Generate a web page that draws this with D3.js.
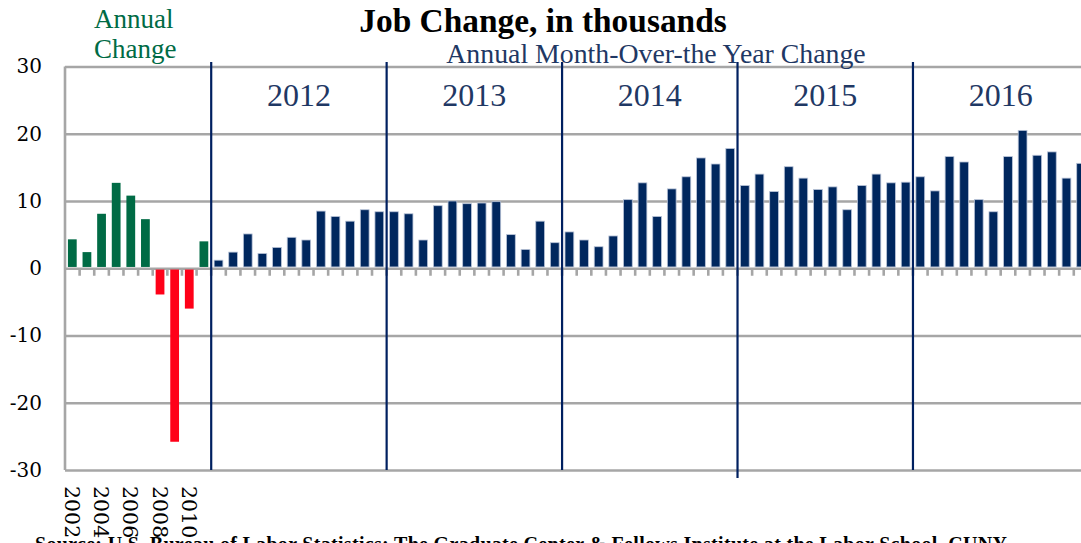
<!DOCTYPE html>
<html>
<head>
<meta charset="utf-8">
<script src="https://cdn.jsdelivr.net/npm/d3@7"></script>
<style>
  html, body { margin: 0; padding: 0; background: #fff; }
  svg { display: block; }
</style>
</head>
<body>
<svg id="chart" width="1081" height="543"></svg>
<script>
// ---------- DATA ----------
const annualYears = ["2002","2003","2004","2005","2006","2007","2008","2009","2010","2011"];
const annualChange = [4.3, 2.4, 8.1, 12.7, 10.8, 7.3, -3.9, -25.8, -6.0, 4.0];
const monthYears = ["2012","2013","2014","2015","2016"];
const monthNames = ["Jan","Feb","Mar","Apr","May","Jun","Jul","Aug","Sep","Oct","Nov","Dec"];
const monthlyChange = [
  // 2012
  1.2, 2.4, 5.1, 2.2, 3.1, 4.6, 4.2, 8.5, 7.7, 7.0, 8.7, 8.4,
  // 2013
  8.4, 8.1, 4.2, 9.3, 10.0, 9.6, 9.7, 9.9, 5.0, 2.8, 7.0, 3.8,
  // 2014
  5.4, 4.2, 3.2, 4.8, 10.2, 12.7, 7.7, 11.8, 13.6, 16.4, 15.5, 17.8,
  // 2015
  12.3, 14.0, 11.4, 15.1, 13.4, 11.7, 12.1, 8.7, 12.3, 14.0, 12.7, 12.8,
  // 2016
  13.6, 11.5, 16.6, 15.8, 10.2, 8.4, 16.6, 20.5, 16.8, 17.3, 13.4, 15.6
];
const yTicks = [30, 20, 10, 0, -10, -20, -30];
const xTickLabels = ["2002","2004","2006","2008","2010"];
const titleText = "Job Change, in thousands";
const subtitleText = "Annual Month-Over-the Year Change";
const annualLabelLines = ["Annual", "Change"];
const sourceText = "Source: U.S. Bureau of Labor Statistics; The Graduate Center & Fellows Institute at the Labor School, CUNY";

// ---------- BUILD ----------
const rows = [];
annualYears.forEach((yr, i) => rows.push({ key: yr, value: annualChange[i], kind: "annual", year: yr }));
monthYears.forEach((yr, yi) => monthNames.forEach((m, mi) => {
  rows.push({ key: yr + "-" + m, value: monthlyChange[yi * 12 + mi], kind: "month", year: yr });
}));

const svg = d3.select("#chart");
const plotLeft = 65, step = 14.62;
const plotTop = 66.5, plotBottom = 470;

const x = d3.scaleBand()
  .domain(rows.map(d => d.key))
  .range([plotLeft, plotLeft + rows.length * step])
  .paddingInner(0.4)
  .paddingOuter(0.2);
const y = d3.scaleLinear().domain([-30, 30]).range([plotBottom, plotTop]);
const xEnd = 1081;
const boundary = i => x.range()[0] + i * x.step();

const grey = "#a6a6a6", navy = "#002060", green = "#006b45", red = "#ff0018", barNavy = "#00275e";
const serif = "'Liberation Serif', 'Times New Roman', serif";
const serif2 = "'DejaVu Serif', serif";

// grid + y labels
const yAxis = d3.axisLeft(y).tickValues(yTicks).tickSize(-(xEnd - plotLeft)).tickFormat(d => String(d));
const gy = svg.append("g").attr("transform", `translate(${plotLeft},0)`).call(yAxis);
gy.select(".domain").remove();
gy.selectAll(".tick line").attr("stroke", grey).attr("stroke-width", 2.6);
gy.selectAll(".tick text")
  .attr("x", -23)
  .attr("font-family", serif2)
  .attr("font-size", 20)
  .attr("fill", "#000");

// left axis line
svg.append("line")
  .attr("x1", plotLeft).attr("x2", plotLeft)
  .attr("y1", y(30)).attr("y2", y(-30))
  .attr("stroke", grey).attr("stroke-width", 2.6);

// zero-line ticks at category boundaries
svg.append("g").selectAll("line")
  .data(d3.range(1, rows.length))
  .join("line")
  .attr("x1", i => boundary(i)).attr("x2", i => boundary(i))
  .attr("y1", y(0)).attr("y2", y(0) + 7.5)
  .attr("stroke", grey).attr("stroke-width", 2.6);

// bars
svg.append("g").selectAll("rect")
  .data(rows)
  .join("rect")
  .attr("x", d => x(d.key))
  .attr("width", x.bandwidth())
  .attr("y", d => d.value >= 0 ? y(d.value) : y(0) + 1.3)
  .attr("height", d => d.value >= 0 ? y(0) - 1.3 - y(d.value) : y(d.value) - y(0) - 1.3)
  .attr("fill", d => d.kind === "month" ? barNavy : (d.value < 0 ? red : green))
  .attr("stroke", d => d.kind === "month" ? "#b9c4d8" : "none")
  .attr("stroke-width", d => d.kind === "month" ? 0.8 : 0);

// year separators and labels
const firstIdx = monthYears.map(yr => rows.findIndex(r => r.year === yr));
svg.append("g").selectAll("line")
  .data(firstIdx)
  .join("line")
  .attr("x1", i => boundary(i)).attr("x2", i => boundary(i))
  .attr("y1", 62)
  .attr("y2", (i, k) => k === 3 ? plotBottom + 8 : plotBottom)
  .attr("stroke", navy).attr("stroke-width", 2.2);

svg.append("g").selectAll("text")
  .data(monthYears)
  .join("text")
  .attr("x", (yr, k) => (boundary(firstIdx[k]) + boundary(firstIdx[k] + 12)) / 2)
  .attr("y", 106)
  .attr("text-anchor", "middle")
  .attr("font-family", serif)
  .attr("font-size", 32)
  .attr("fill", "#1f3864")
  .text(d => d);

// x labels (rotated)
svg.append("g").selectAll("text")
  .data(xTickLabels)
  .join("text")
  .attr("transform", d => `translate(${x(d) + x.bandwidth() / 2},486) rotate(90)`)
  .attr("dy", "0.36em")
  .attr("font-family", serif2)
  .attr("font-size", 20.5)
  .attr("fill", "#000")
  .text(d => d);

// titles
svg.append("text")
  .attr("x", 543).attr("y", 32)
  .attr("text-anchor", "middle")
  .attr("font-family", serif)
  .attr("font-weight", "bold")
  .attr("font-size", 33.4)
  .attr("fill", "#000")
  .text(titleText);

svg.append("text")
  .attr("x", 656).attr("y", 63)
  .attr("text-anchor", "middle")
  .attr("font-family", serif)
  .attr("font-size", 27.8)
  .attr("fill", "#1f3864")
  .text(subtitleText);

svg.append("g").selectAll("text")
  .data(annualLabelLines)
  .join("text")
  .attr("x", 94)
  .attr("y", (d, i) => 28 + i * 30)
  .attr("font-family", serif)
  .attr("font-size", 27)
  .attr("fill", green)
  .text(d => d);

svg.append("text")
  .attr("x", 35).attr("y", 551)
  .attr("font-family", serif)
  .attr("font-weight", "bold")
  .attr("font-size", 20)
  .attr("textLength", 972)
  .attr("lengthAdjust", "spacing")
  .attr("fill", "#000")
  .text(sourceText);
</script>
</body>
</html>
